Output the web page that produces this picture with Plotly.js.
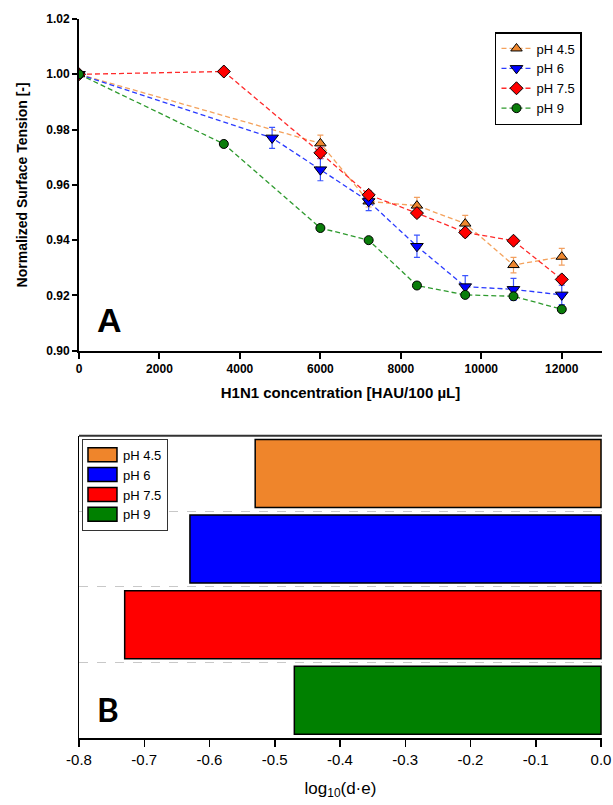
<!DOCTYPE html>
<html><head><meta charset="utf-8">
<script src="https://cdn.plot.ly/plotly-3.0.1.min.js"></script>
<style>html,body{margin:0;padding:0;background:#fff}#chart{width:613px;height:805px}</style>
</head><body><div id="chart"></div>
<script>
// ---------- Panel A data ----------
const seriesNames = ['pH 4.5', 'pH 6', 'pH 7.5', 'pH 9'];

const x_ph45 = [0, 6000, 7200, 8400, 9600, 10800, 12000];
const y_ph45 = [1.000, 0.975, 0.954, 0.9525, 0.946, 0.931, 0.934];
const e_ph45 = [0, 0.003, 0.002, 0.003, 0.003, 0.0028, 0.003];

const x_ph6 = [0, 4800, 6000, 7200, 8400, 9600, 10800, 12000];
const y_ph6 = [1.000, 0.977, 0.9655, 0.954, 0.9378, 0.9232, 0.9222, 0.9202];
const e_ph6 = [0, 0.0038, 0.004, 0.0033, 0.004, 0.004, 0.004, 0.0035];

const x_ph75 = [0, 3600, 6000, 7200, 8400, 9600, 10800, 12000];
const y_ph75 = [1.000, 1.001, 0.9716, 0.9564, 0.9498, 0.9428, 0.9398, 0.9258];
const e_ph75 = [0, 0.001, 0.002, 0.0015, 0.0015, 0.0015, 0.001, 0.0015];

const x_ph9 = [0, 3600, 6000, 7200, 8400, 9600, 10800, 12000];
const y_ph9 = [1.000, 0.9748, 0.9444, 0.940, 0.9236, 0.9202, 0.9197, 0.915];
const e_ph9 = [0, 0, 0, 0, 0, 0, 0.001, 0];

const xTicksA = [0, 2000, 4000, 6000, 8000, 10000, 12000];

// ---------- Panel B data ----------
const barValues = [-0.53, -0.63, -0.73, -0.47];
const xTicksB = [-0.8, -0.7, -0.6, -0.5, -0.4, -0.3, -0.2, -0.1, 0.0];
const xTickTextB = ['-0.8', '-0.7', '-0.6', '-0.5', '-0.4', '-0.3', '-0.2', '-0.1', '0.0'];

// ---------- styles ----------
const markerFill = ['#EE872F', '#0000FF', '#FF0000', '#0A7D0A'];
const lineCols = ['#F4A25C', '#2B3BFF', '#FF2A2A', '#2E9A2E'];
const errCols = ['#F2A060', '#3B55FF', '#FF4A78', '#2E7D2E'];
const symbols = ['triangle-up', 'triangle-down', 'diamond', 'circle'];
const msizes = [10, 11, 10, 9];
const barColors = ['#EF852B', '#0000FF', '#FF0000', '#008000'];

const xs = [x_ph45, x_ph6, x_ph75, x_ph9];
const ys = [y_ph45, y_ph6, y_ph75, y_ph9];
const es = [e_ph45, e_ph6, e_ph75, e_ph9];

const data = [];
for (let i = 0; i < 4; i++) {
  data.push({
    type: 'scatter', mode: 'lines+markers', name: seriesNames[i],
    x: xs[i], y: ys[i], xaxis: 'x', yaxis: 'y', legend: 'legend',
    error_y: {type: 'data', array: es[i], visible: true, color: errCols[i], thickness: 1.2, width: 3},
    line: {color: lineCols[i], dash: '5px,3px', width: 1.3},
    marker: {symbol: symbols[i], size: msizes[i], color: markerFill[i], line: {color: '#000', width: 1}}
  });
}
for (let i = 0; i < 4; i++) {
  data.push({
    type: 'bar', orientation: 'h', name: seriesNames[i],
    x: [barValues[i]], y: [seriesNames[i]], xaxis: 'x2', yaxis: 'y2', legend: 'legend2',
    width: 0.9,
    marker: {color: barColors[i], line: {color: '#000', width: 1.5}}
  });
}

const FONT = 'Liberation Sans, Arial, sans-serif';
const layout = {
  width: 613, height: 805,
  margin: {l: 79, r: 11, t: 19, b: 66.5},
  paper_bgcolor: '#fff', plot_bgcolor: '#fff',
  font: {family: FONT, color: '#000', size: 12},
  showlegend: true,
  barmode: 'overlay',
  xaxis: {
    domain: [0, 1], anchor: 'y', range: [0, 13000], tickvals: xTicksA, tickformat: 'd',
    ticks: 'outside', ticklen: 6, tickwidth: 2, tickcolor: '#000',
    showline: true, linewidth: 2, linecolor: '#000', showgrid: false, zeroline: false,
    tickfont: {size: 12, weight: 'bold'},
    title: {text: 'H1N1 concentration [HAU/100 µL]', font: {size: 15, weight: 'bold'}, standoff: 12}
  },
  yaxis: {
    domain: [0.5386, 1], anchor: 'x', range: [0.9, 1.02], tick0: 0.9, dtick: 0.02, tickformat: '.2f',
    ticks: 'outside', ticklen: 5, tickwidth: 2, tickcolor: '#000',
    showline: true, linewidth: 2, linecolor: '#000', showgrid: false, zeroline: false,
    tickfont: {size: 12, weight: 'bold'},
    title: {text: 'Normalized Surface Tension [-]', font: {size: 14, weight: 'bold'}, standoff: 15}
  },
  xaxis3: {
    overlaying: 'x', anchor: 'y', side: 'top', range: [-0.6, 5], tickvals: [0, 1, 2, 3, 4],
    ticks: 'inside', ticklen: 6, tickwidth: 2, tickcolor: '#000', showticklabels: false,
    showline: true, linewidth: 2, linecolor: '#000', showgrid: false, zeroline: false
  },
  yaxis4: {
    overlaying: 'y', anchor: 'x', side: 'right', range: [0.9, 1.02], tick0: 0.9, dtick: 0.02,
    ticks: 'inside', ticklen: 6, tickwidth: 2, tickcolor: '#000', showticklabels: false,
    showline: true, linewidth: 2, linecolor: '#000', showgrid: false, zeroline: false
  },
  xaxis2: {
    domain: [0, 1], anchor: 'y2', range: [-0.8, 0.0015], tickvals: xTicksB, ticktext: xTickTextB,
    ticks: 'outside', ticklen: 7, tickwidth: 1.5, tickcolor: '#000',
    showline: true, linewidth: 1.5, linecolor: '#000', showgrid: false, zeroline: false,
    tickfont: {size: 15},
    title: {text: 'log<sub>10</sub>(d·e)', font: {size: 17}, standoff: 15}
  },
  yaxis2: {
    domain: [0, 0.4204], anchor: 'x2', type: 'category', categoryorder: 'array', categoryarray: seriesNames,
    autorange: 'reversed', tickson: 'boundaries', showgrid: true, gridcolor: '#c8c8c8', griddash: 'dash', gridwidth: 1,
    ticks: '', showticklabels: false, showline: true, linewidth: 1.5, linecolor: '#000', zeroline: false
  },
  yaxis3: {
    overlaying: 'y2', anchor: 'x2', side: 'right', range: [3.5, -0.5], tickvals: [-0.5, 0.5, 1.5, 2.5, 3.5],
    ticks: 'outside', ticklen: 5, tickwidth: 2, tickcolor: '#000', showticklabels: false,
    showline: true, linewidth: 2.5, linecolor: '#000', showgrid: false, zeroline: false
  },
  shapes: [
    {type: 'line', xref: 'x2 domain', yref: 'y2 domain', x0: 0, x1: 1, y0: 1, y1: 1,
     line: {color: '#333', width: 2}, layer: 'above'}
  ],
  legend: {
    x: 0.7954, y: 0.9819, xanchor: 'left', yanchor: 'top', xref: 'paper', yref: 'paper',
    bordercolor: '#000', borderwidth: 1.5, bgcolor: '#fff', font: {size: 13}, tracegroupgap: 0
  },
  legend2: {
    x: 0.0057, y: 0.4163, xanchor: 'left', yanchor: 'top', xref: 'paper', yref: 'paper',
    bordercolor: '#333', borderwidth: 1, bgcolor: '#fff', font: {size: 13}, tracegroupgap: 0
  },
  annotations: [
    {text: 'A', xref: 'paper', yref: 'paper', x: 0.0574, y: 0.5818, xanchor: 'center', yanchor: 'middle',
     showarrow: false, font: {size: 34, weight: 'bold', family: FONT}},
    {text: 'B', xref: 'paper', yref: 'paper', x: 0.0554, y: 0.0403, xanchor: 'center', yanchor: 'middle',
     showarrow: false, font: {size: 33, weight: 'bold', family: 'Lato, Open Sans, sans-serif'}}
  ]
};

function widenBarSwatches() {
  document.querySelectorAll('g.legendpoints path').forEach(function (p) {
    const d = (p.getAttribute('d') || '').replace(/\s/g, '');
    if (d.indexOf('M6,6H-6V-6H6Z') === 0 || p.classList.contains('legendbar')) {
      p.setAttribute('d', 'M-15,7H14V-7H-15Z');
    }
  });
}

const gd = document.getElementById('chart');
Plotly.newPlot(gd, data, layout, {staticPlot: true, displayModeBar: false}).then(function () {
  widenBarSwatches();
  gd.on('plotly_afterplot', widenBarSwatches);
  setTimeout(widenBarSwatches, 50);
  setTimeout(widenBarSwatches, 300);
});
</script>
</body></html>
